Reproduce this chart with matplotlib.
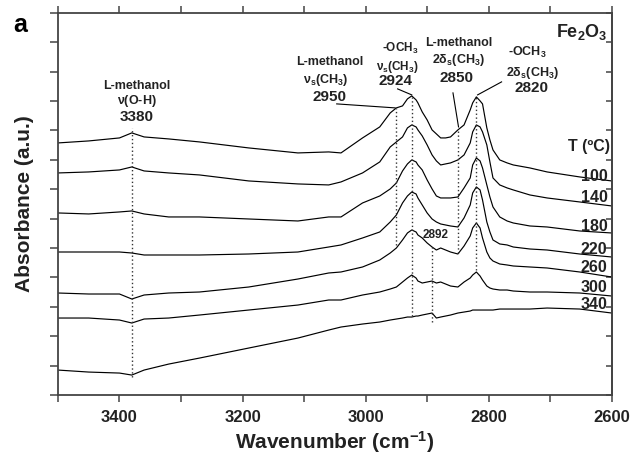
import matplotlib
matplotlib.use("Agg")
import matplotlib.pyplot as plt

plt.rcParams['font.family'] = ['Liberation Sans', 'DejaVu Sans']
plt.rcParams['mathtext.default'] = 'regular'

# ---------------- data ----------------
wavenumber = [3500, 3450, 3400, 3380, 3360, 3320, 3270, 3190, 3110, 3060,
              3040, 3005, 2977, 2960, 2950, 2940, 2932, 2925, 2918, 2915,
              2908, 2900, 2892, 2885, 2878, 2870, 2862, 2850, 2840, 2830,
              2826, 2820, 2814, 2810, 2803, 2798, 2793, 2782, 2770, 2760,
              2733, 2705, 2652, 2600]

temperatures = ['100', '140', '180', '220', '260', '300', '340']

abs_100 = [8.577, 8.645, 8.747, 8.918, 8.781, 8.713, 8.611, 8.407, 8.237, 8.271,
           8.237, 8.747, 9.122, 9.598, 9.769, 9.837, 10.075, 10.177, 10.041, 9.939,
           9.632, 9.360, 9.020, 8.884, 8.747, 8.747, 8.781, 9.020, 9.190, 9.700,
           9.939, 10.143, 10.007, 9.905, 9.088, 8.679, 8.339, 7.999, 7.897, 7.828,
           7.726, 7.590, 7.420, 7.284]
abs_140 = [7.556, 7.590, 7.658, 7.760, 7.624, 7.556, 7.488, 7.284, 7.182, 7.148,
           7.250, 7.556, 7.931, 8.441, 8.611, 8.781, 9.088, 9.190, 9.122, 9.020,
           8.816, 8.509, 8.169, 7.965, 7.828, 7.863, 7.897, 7.999, 8.169, 8.577,
           8.952, 9.190, 9.122, 8.952, 8.509, 7.931, 7.386, 7.148, 7.046, 6.978,
           6.807, 6.705, 6.569, 6.433]
abs_180 = [6.195, 6.161, 6.229, 6.263, 6.161, 6.059, 6.059, 5.990, 5.922, 6.059,
           6.059, 6.535, 6.773, 7.012, 7.216, 7.624, 7.863, 7.999, 7.931, 7.828,
           7.658, 7.318, 7.012, 6.773, 6.705, 6.705, 6.705, 6.739, 7.046, 7.386,
           7.828, 8.067, 7.965, 7.726, 7.148, 6.739, 6.399, 6.059, 5.922, 5.854,
           5.752, 5.718, 5.582, 5.514]
abs_220 = [4.867, 4.867, 4.867, 4.833, 4.765, 4.765, 4.765, 4.799, 4.867, 5.037,
           5.106, 5.344, 5.548, 5.888, 6.127, 6.535, 6.773, 6.909, 6.841, 6.705,
           6.467, 6.195, 5.990, 5.888, 5.820, 5.786, 5.752, 5.718, 6.025, 6.467,
           6.875, 7.080, 6.978, 6.637, 5.888, 5.548, 5.276, 5.140, 5.106, 5.037,
           4.969, 4.935, 4.799, 4.697]
abs_260 = [3.472, 3.438, 3.438, 3.268, 3.404, 3.472, 3.506, 3.676, 3.948, 4.153,
           4.187, 4.357, 4.595, 4.833, 5.003, 5.276, 5.514, 5.616, 5.548, 5.446,
           5.344, 5.174, 5.037, 4.935, 5.003, 4.935, 4.867, 4.799, 5.071, 5.412,
           5.684, 5.854, 5.684, 5.344, 4.867, 4.663, 4.561, 4.459, 4.425, 4.391,
           4.357, 4.323, 4.187, 4.016]
abs_300 = [2.621, 2.621, 2.553, 2.451, 2.587, 2.621, 2.723, 2.893, 3.063, 3.234,
           3.234, 3.404, 3.506, 3.608, 3.676, 3.846, 3.982, 4.084, 3.982, 3.880,
           3.812, 3.846, 3.880, 3.812, 3.846, 3.778, 3.710, 3.676, 3.846, 3.982,
           4.084, 4.187, 4.050, 3.914, 3.710, 3.642, 3.608, 3.574, 3.574, 3.540,
           3.506, 3.506, 3.472, 3.370]
abs_340 = [0.851, 0.783, 0.749, 0.681, 0.851, 1.055, 1.259, 1.600, 1.940, 2.212,
           2.315, 2.417, 2.485, 2.553, 2.587, 2.621, 2.655, 2.655, 2.689, 2.689,
           2.723, 2.757, 2.791, 2.621, 2.655, 2.689, 2.723, 2.791, 2.825, 2.859,
           2.893, 2.893, 2.893, 2.893, 2.893, 2.893, 2.893, 2.927, 2.927, 2.927,
           2.927, 2.961, 2.927, 2.791]

series = [abs_100, abs_140, abs_180, abs_220, abs_260, abs_300, abs_340]

# y-position of each temperature label (right side)
temp_label_y = [7.42, 6.705, 5.718, 4.969, 4.323, 3.676, 3.097]

# dotted marker lines: wavenumber, y-bottom, y-top
marker_wn = [3380, 2950, 2924, 2850, 2820, 2892]
marker_y0 = [0.613, 5.106, 2.689, 4.833, 4.255, 2.485]
marker_y1 = [9.088, 9.769, 10.143, 9.020, 10.143, 5.037]

# leader lines: (wn start, y start, wn end, y end)
leader_lines = [(3047, 9.905, 2952, 9.769),
                (2948, 10.415, 2925, 10.211),
                (2858, 10.279, 2849, 9.122),
                (2779, 10.654, 2818, 10.211)]

xticks_major = [3400, 3200, 3000, 2800, 2600]
xticks_minor = [3500, 3300, 3100, 2900, 2700]

# ---------------- figure ----------------
fig = plt.figure(figsize=(6.3, 4.61), dpi=100)
ax = fig.add_axes([0.092, 0.143, 0.879, 0.829])

for s in series:
    ax.plot(wavenumber, s, color='black', lw=0.85, solid_joinstyle='round')

for wn, y0, y1 in zip(marker_wn, marker_y0, marker_y1):
    ax.plot([wn, wn], [y0, y1], color='#333333', lw=1.0, ls=(0, (1, 1.8)))

for x0, y0, x1, y1 in leader_lines:
    ax.plot([x0, x1], [y0, y1], color='black', lw=0.8)

ax.set_xlim(3500, 2600)
ax.set_ylim(0, 13)
ax.set_xticks(xticks_major)
ax.set_xticks(xticks_minor, minor=True)
ax.set_yticks(range(0, 14))
ax.set_yticklabels([])
ax.tick_params(axis='x', which='both', direction='out', length=5, width=1.1,
               color='#444444', labelsize=12, pad=6, top=True)
ax.tick_params(axis='y', which='both', direction='out', length=6, width=1.1,
               color='#444444')
for lab in ax.get_xticklabels():
    lab.set_fontweight('bold')
    lab.set_color('#222222')

ax2 = ax.secondary_yaxis('right')
ax2.set_yticks(range(0, 14))
ax2.set_yticklabels([])
ax2.tick_params(direction='in', length=4, width=1.1, color='#444444')
ax2.spines['right'].set_linewidth(1.3)
ax2.spines['right'].set_color('#444444')

for sp in ax.spines.values():
    sp.set_linewidth(1.3)
    sp.set_color('#444444')

ax.set_xlabel('Wavenumber (cm$^{-1}$)', fontsize=15, fontweight='bold',
              color='#222222', labelpad=3)
ax.set_ylabel('Absorbance (a.u.)', fontsize=15, fontweight='bold',
              color='#222222', labelpad=8)

tc = '#222222'


def lbl(x, y, s, size=9):
    ax.text(x, y, s, ha='center', va='center', fontsize=size,
            fontweight='bold', color=tc)


lbl(3372, 10.517, 'L-methanol')
lbl(3372, 10.007, r'$\nu$(O-H)')
lbl(3372, 9.462, '3380', 11)

lbl(3058, 11.334, 'L-methanol')
lbl(3064, 10.722, r'$\nu_s$(CH$_3$)')
lbl(3058, 10.143, '2950', 11)

lbl(2943, 11.80, '-OCH$_3$', 8.5)
lbl(2949, 11.15, r'$\nu_s$(CH$_3$)', 8.5)
lbl(2952, 10.68, '2924', 11)

lbl(2849, 11.981, 'L-methanol')
lbl(2849, 11.402, r'2$\delta_s$(CH$_3$)')
lbl(2852, 10.790, '2850', 11)

lbl(2737, 11.641, '-OCH$_3$')
lbl(2728, 10.960, r'2$\delta_s$(CH$_3$)')
lbl(2730, 10.449, '2820', 11)

lbl(2886, 5.446, '2892', 8.5)

ax.text(2607, 12.355, 'Fe$_2$O$_3$', ha='right', va='center', fontsize=13,
        fontweight='bold', color=tc)
ax.text(2603, 8.441, 'T (ºC)', ha='right', va='center', fontsize=11.5,
        fontweight='bold', color=tc)
for t, y in zip(temperatures, temp_label_y):
    ax.text(2607, y, t, ha='right', va='center', fontsize=11.5,
            fontweight='bold', color=tc)

fig.text(13 / 630, 1 - 32 / 461, 'a', fontsize=18, fontweight='bold',
         color='black', ha='left', va='baseline')

fig.savefig('out.png', dpi=100)
